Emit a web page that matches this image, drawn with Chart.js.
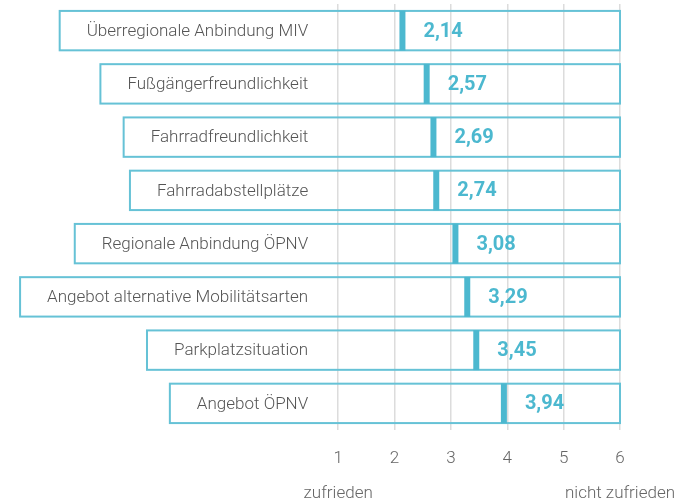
<!DOCTYPE html>
<html>
<head>
<meta charset="utf-8">
<script src="https://cdn.jsdelivr.net/npm/chart.js@4/dist/chart.umd.min.js"></script>
<style>
  html, body { margin: 0; padding: 0; background: #fff; }
  #wrap { width: 676px; height: 504px; position: relative; }
</style>
</head>
<body>
<div id="wrap"><canvas id="mobChart"></canvas></div>
<script>
var categories = [
  "Überregionale Anbindung MIV",
  "Fußgängerfreundlichkeit",
  "Fahrradfreundlichkeit",
  "Fahrradabstellplätze",
  "Regionale Anbindung ÖPNV",
  "Angebot alternative Mobilitätsarten",
  "Parkplatzsituation",
  "Angebot ÖPNV"
];
var scores = [2.14, 2.57, 2.69, 2.74, 3.08, 3.29, 3.45, 3.94];
var tickValues = [1, 2, 3, 4, 5, 6];
var scaleEnds = { 1: "zufrieden", 6: "nicht zufrieden" };

var TEAL = '#4cb8cf';
var BOX = '#66c2d6';
var GREY_TXT = '#555';

// frames round each row + the category text inside them
var framePlugin = {
  id: 'frames',
  beforeDatasetsDraw: function(chart) {
    var ctx = chart.ctx;
    var x = chart.scales.x, y = chart.scales.y;
    var right = x.getPixelForValue(6);
    var textRight = x.getPixelForValue(1) - 30;
    ctx.save();
    ctx.font = '300 17px Roboto';
    ctx.textAlign = 'right';
    ctx.textBaseline = 'middle';
    categories.forEach(function(lab, i) {
      var top = y.getPixelForValue(i - 0.37);
      var bot = y.getPixelForValue(i + 0.37);
      var w = ctx.measureText(lab).width;
      var left = Math.max(textRight - w - 27, 7);
      ctx.strokeStyle = BOX;
      ctx.lineWidth = 2;
      ctx.strokeRect(left, top, right - left, bot - top);
      ctx.fillStyle = GREY_TXT;
      ctx.fillText(lab, textRight, y.getPixelForValue(i) + 1);
    });
    ctx.restore();
  },
  afterDatasetsDraw: function(chart) {
    var ctx = chart.ctx;
    var x = chart.scales.x, y = chart.scales.y;
    ctx.save();
    ctx.font = 'bold 20px Roboto';
    ctx.textAlign = 'left';
    ctx.textBaseline = 'middle';
    ctx.fillStyle = TEAL;
    scores.forEach(function(v, i) {
      ctx.fillText(v.toFixed(2).replace('.', ','), x.getPixelForValue(v) + 21, y.getPixelForValue(i) + 1);
    });
    ctx.restore();
  }
};

var ctx = document.getElementById('mobChart').getContext('2d');
var myChart = new Chart(ctx, {
  type: 'bar',
  data: {
    labels: categories,
    datasets: [{
      type: 'line',
      indexAxis: 'y',
      data: scores,
      showLine: false,
      pointStyle: 'line',
      rotation: 90,
      pointRadius: 20,
      pointHoverRadius: 20,
      borderWidth: 6,
      pointBorderWidth: 6,
      pointHoverBorderWidth: 6,
      borderColor: TEAL,
      backgroundColor: TEAL
    }]
  },
  options: {
    indexAxis: 'y',
    responsive: true,
    maintainAspectRatio: false,
    animation: false,
    layout: { autoPadding: false, padding: { top: 4, left: 0, right: 0, bottom: 0 } },
    plugins: {
      legend: { display: false },
      tooltip: { enabled: false }
    },
    scales: {
      x: {
        min: -5,
        max: 6,
        afterBuildTicks: function(scale) {
          scale.ticks = tickValues.map(function(v) { return { value: v }; });
        },
        afterFit: function(scale) {
          scale.height = 74;
          scale.paddingLeft = 0;
          scale.paddingRight = 56;
        },
        border: { display: false },
        grid: { color: '#dcdcdc', lineWidth: 1.5, drawTicks: false },
        ticks: {
          padding: 11,
          autoSkip: false,
          maxRotation: 0,
          minRotation: 0,
          color: '#666',
          font: { family: 'Roboto', weight: '300', size: 17, lineHeight: 2.05 },
          callback: function(v) {
            return scaleEnds[v] ? [String(v), scaleEnds[v]] : String(v);
          }
        }
      },
      y: {
        display: false
      }
    }
  },
  plugins: [framePlugin]
});
</script>
</body>
</html>
